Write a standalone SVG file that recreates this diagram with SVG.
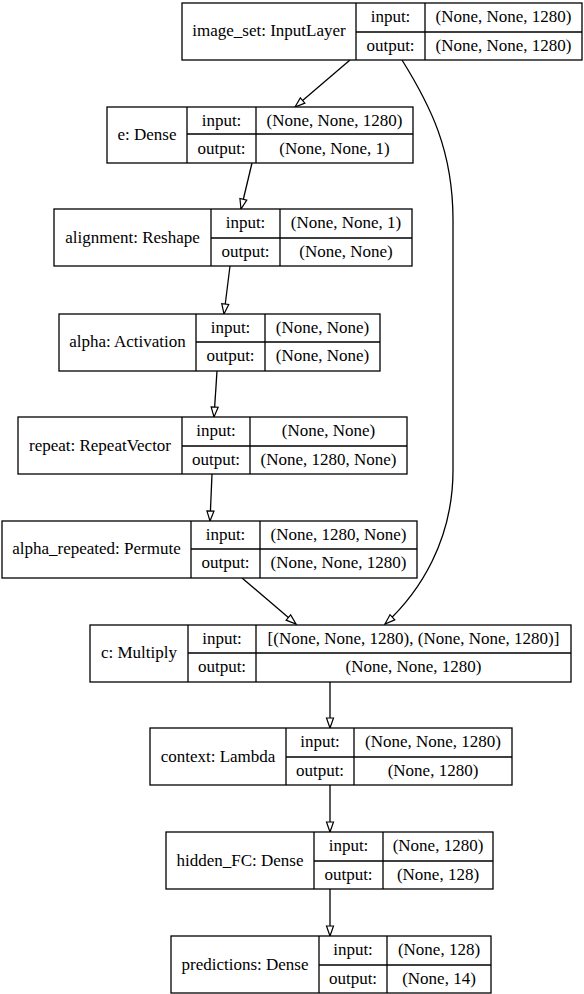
<svg xmlns="http://www.w3.org/2000/svg" width="584" height="994" viewBox="0 0 584 994">
<style>
.b{fill:#fff;stroke:#000;stroke-width:1.3}
.l{fill:none;stroke:#000;stroke-width:1.3}
text{font-family:'Liberation Serif','Times New Roman',Times,serif;font-size:17px;fill:#000;text-anchor:middle}
.e{fill:none;stroke:#000;stroke-width:1.3;marker-end:url(#ah)}
</style>
<defs>
<marker id="ah" markerUnits="userSpaceOnUse" markerWidth="12" markerHeight="10" refX="10" refY="4" orient="auto" viewBox="-1 -1 12 10">
<path d="M0,0.5 L10,4 L0,7.5 z" fill="#fff" stroke="#000" stroke-width="1.2"/>
</marker>
</defs>
<rect width="584" height="994" fill="#fff"/>
<g id="edges">
<path class="e" d="M350,60 L295,107"/>
<path class="e" d="M402,60 C430,105 453,150 453,220 L453,470 C453,540 420,592 385,624"/>
<path class="e" d="M252,163 L241,209"/>
<path class="e" d="M230,266 L224,314"/>
<path class="e" d="M217,371 L214,417"/>
<path class="e" d="M212,474 L210,521"/>
<path class="e" d="M242,578 L296,624"/>
<path class="e" d="M330,682 L330,728"/>
<path class="e" d="M330,785 L330,832"/>
<path class="e" d="M330,889 L330,936"/>
</g>
<g id="image_set">
<rect class="b" x="182" y="3" width="400" height="57"/>
<path class="l" d="M356,3 V60 M425,3 V60 M356,32 H582"/>
<text x="269" y="36">image_set: InputLayer</text>
<text x="390.5" y="22">input:</text>
<text x="390.5" y="51">output:</text>
<text x="503.5" y="22">(None, None, 1280)</text>
<text x="503.5" y="51">(None, None, 1280)</text>
</g>
<g id="e">
<rect class="b" x="107" y="107" width="306" height="56"/>
<path class="l" d="M187,107 V163 M256,107 V163 M187,134 H413"/>
<text x="147" y="140">e: Dense</text>
<text x="221.5" y="126">input:</text>
<text x="221.5" y="154">output:</text>
<text x="334.5" y="126">(None, None, 1280)</text>
<text x="334.5" y="154">(None, None, 1)</text>
</g>
<g id="alignment">
<rect class="b" x="54" y="209" width="358" height="57"/>
<path class="l" d="M211,209 V266 M280,209 V266 M211,238 H412"/>
<text x="132.5" y="243">alignment: Reshape</text>
<text x="245.5" y="228">input:</text>
<text x="245.5" y="257">output:</text>
<text x="346" y="228">(None, None, 1)</text>
<text x="346" y="257">(None, None)</text>
</g>
<g id="alpha">
<rect class="b" x="59" y="314" width="321" height="57"/>
<path class="l" d="M196,314 V371 M265,314 V371 M196,342 H380"/>
<text x="127.5" y="347">alpha: Activation</text>
<text x="230.5" y="333">input:</text>
<text x="230.5" y="361">output:</text>
<text x="322.5" y="333">(None, None)</text>
<text x="322.5" y="361">(None, None)</text>
</g>
<g id="repeat">
<rect class="b" x="18" y="417" width="389" height="57"/>
<path class="l" d="M182,417 V474 M250,417 V474 M182,446 H407"/>
<text x="100" y="451">repeat: RepeatVector</text>
<text x="216" y="436">input:</text>
<text x="216" y="465">output:</text>
<text x="328.5" y="436">(None, None)</text>
<text x="328.5" y="465">(None, 1280, None)</text>
</g>
<g id="alpha_repeated">
<rect class="b" x="2" y="521" width="415" height="57"/>
<path class="l" d="M191,521 V578 M260,521 V578 M191,549 H417"/>
<text x="96.5" y="554">alpha_repeated: Permute</text>
<text x="225.5" y="540">input:</text>
<text x="225.5" y="568">output:</text>
<text x="338.5" y="540">(None, 1280, None)</text>
<text x="338.5" y="568">(None, None, 1280)</text>
</g>
<g id="c">
<rect class="b" x="90" y="625" width="481" height="57"/>
<path class="l" d="M188,625 V682 M256,625 V682 M188,653 H571"/>
<text x="139" y="658">c: Multiply</text>
<text x="222" y="644">input:</text>
<text x="222" y="672">output:</text>
<text x="413.5" y="644">[(None, None, 1280), (None, None, 1280)]</text>
<text x="413.5" y="672">(None, None, 1280)</text>
</g>
<g id="context">
<rect class="b" x="150" y="728" width="362" height="57"/>
<path class="l" d="M286,728 V785 M354,728 V785 M286,757 H512"/>
<text x="218" y="762">context: Lambda</text>
<text x="320" y="747">input:</text>
<text x="320" y="776">output:</text>
<text x="433" y="747">(None, None, 1280)</text>
<text x="433" y="776">(None, 1280)</text>
</g>
<g id="hidden_FC">
<rect class="b" x="166" y="832" width="327" height="57"/>
<path class="l" d="M314,832 V889 M383,832 V889 M314,861 H493"/>
<text x="240" y="866">hidden_FC: Dense</text>
<text x="348.5" y="851">input:</text>
<text x="348.5" y="880">output:</text>
<text x="438" y="851">(None, 1280)</text>
<text x="438" y="880">(None, 128)</text>
</g>
<g id="predictions">
<rect class="b" x="171" y="936" width="320" height="57"/>
<path class="l" d="M319,936 V993 M387,936 V993 M319,965 H491"/>
<text x="245" y="970">predictions: Dense</text>
<text x="353" y="955">input:</text>
<text x="353" y="984">output:</text>
<text x="439" y="955">(None, 128)</text>
<text x="439" y="984">(None, 14)</text>
</g>
</svg>
